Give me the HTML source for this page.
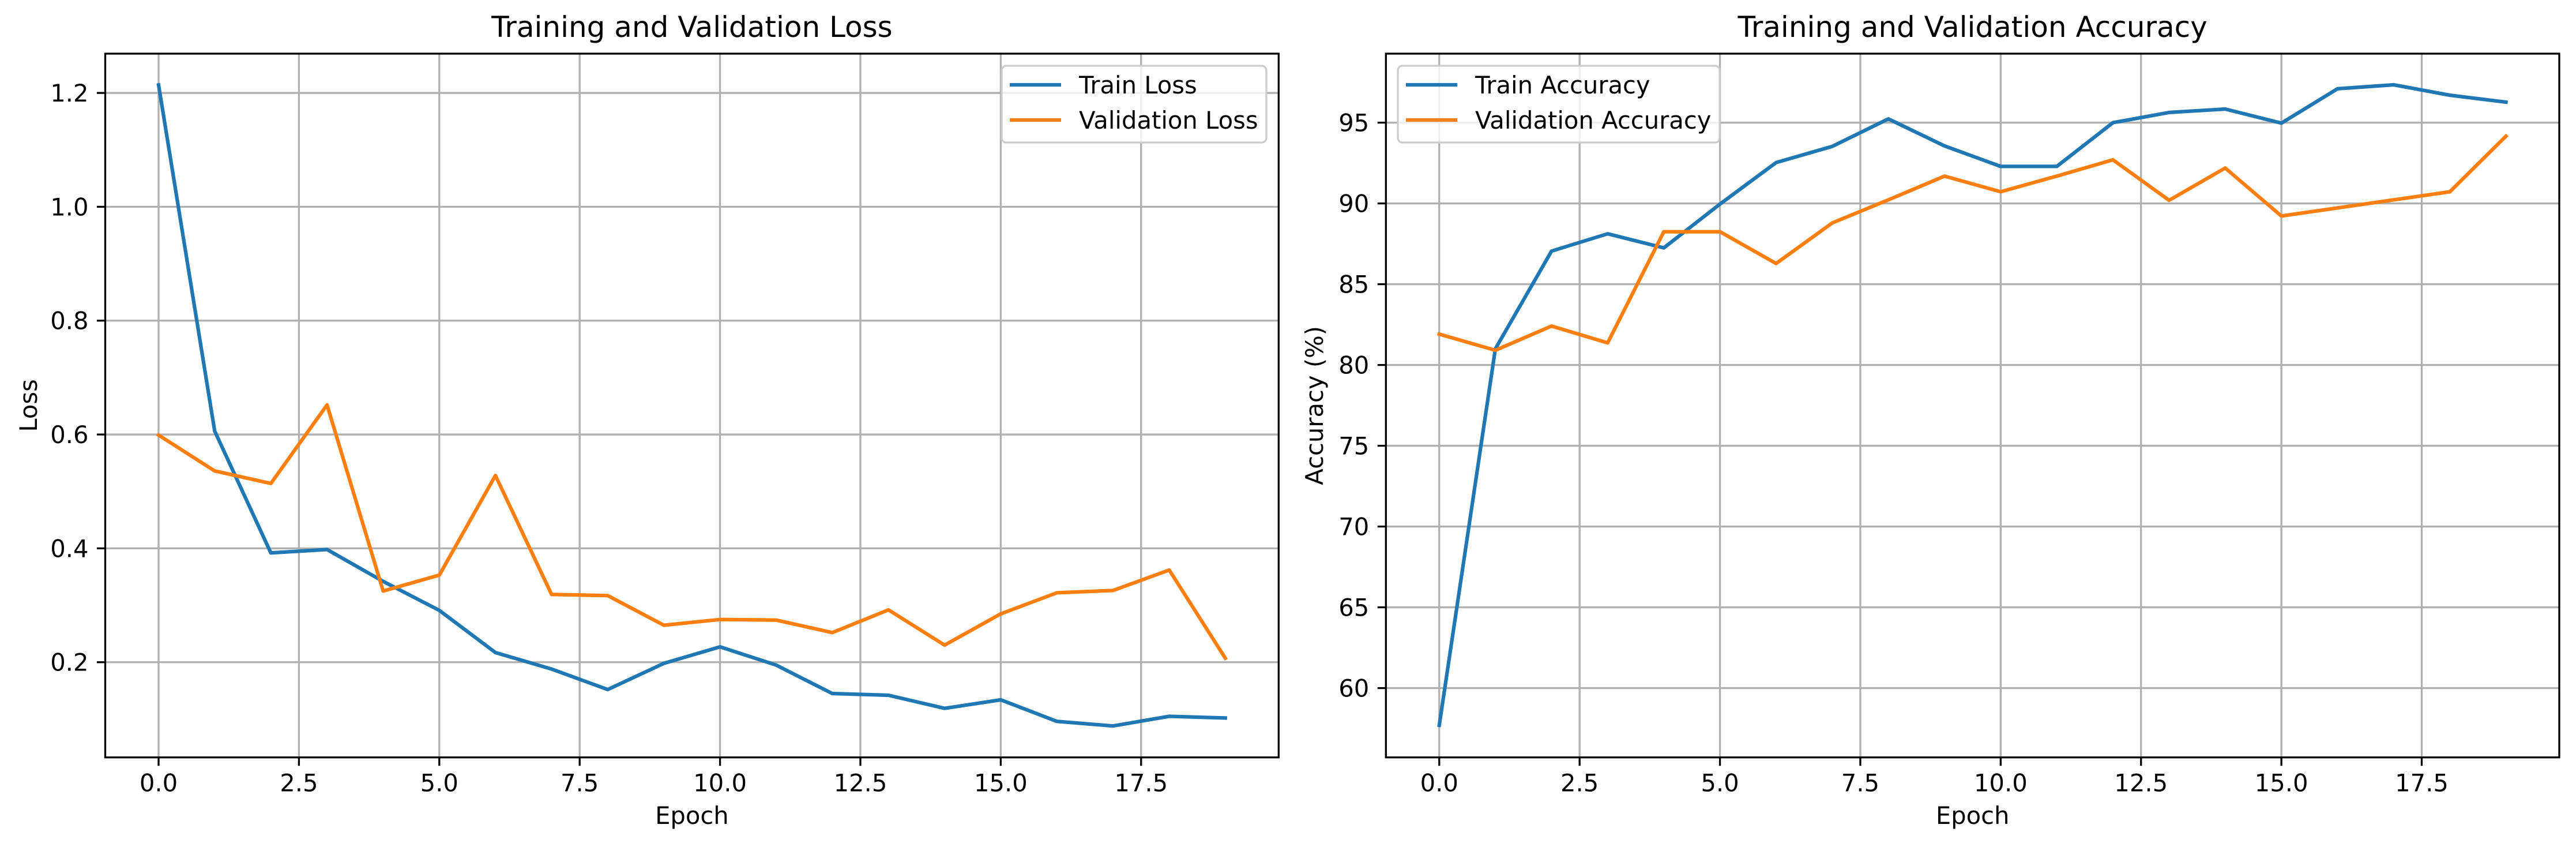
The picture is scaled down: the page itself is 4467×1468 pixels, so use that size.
<!DOCTYPE html>
<html><head><meta charset="utf-8"><style>
html,body{margin:0;padding:0;background:#fff;}
svg{display:block;font-family:"DejaVu Sans","Liberation Sans",sans-serif;}
</style></head><body>
<svg id="fig" width="4467" height="1468" viewBox="0 0 4467 1468" xmlns="http://www.w3.org/2000/svg"></svg>
<script>
const epochs = [0,1,2,3,4,5,6,7,8,9,10,11,12,13,14,15,16,17,18,19];
const trainLoss = [1.214,0.606,0.392,0.398,0.342,0.291,0.217,0.188,0.152,0.198,0.227,0.195,0.145,0.142,0.119,0.134,0.096,0.088,0.105,0.102];
const valLoss = [0.599,0.536,0.514,0.652,0.325,0.353,0.528,0.319,0.317,0.265,0.275,0.274,0.252,0.292,0.230,0.285,0.322,0.326,0.362,0.207];
const trainAcc = [57.7,81.0,87.05,88.12,87.25,89.96,92.53,93.53,95.23,93.56,92.29,92.29,95.0,95.63,95.84,94.97,97.1,97.34,96.7,96.27];
const valAcc = [81.91,80.91,82.41,81.37,88.25,88.25,86.28,88.79,90.22,91.69,90.72,91.69,92.7,90.19,92.19,89.22,89.72,90.22,90.72,94.16];
const xTicks = [0,2.5,5,7.5,10,12.5,15,17.5];
const xTickLabels = ["0.0","2.5","5.0","7.5","10.0","12.5","15.0","17.5"];
const lossTicks = [0.2,0.4,0.6,0.8,1.0,1.2];
const lossTickLabels = ["0.2","0.4","0.6","0.8","1.0","1.2"];
const accTicks = [60,65,70,75,80,85,90,95];
const accTickLabels = ["60","65","70","75","80","85","90","95"];

const NS = "http://www.w3.org/2000/svg";
const svg = document.getElementById('fig');
function mk(tag, attrs, parent){
  const e = document.createElementNS(NS, tag);
  for (const k in attrs) e.setAttribute(k, attrs[k]);
  (parent||svg).appendChild(e);
  return e;
}
const BLUE = "#1f77b4", ORANGE = "#ff7f0e";

function panel(opts){
  const g = mk('g', {});
  
  
  const L = opts.left, R = opts.right, T = 93, B = 1312.7;
  const xmin = -0.95, xmax = 19.95;
  const sx = v => L + (v - xmin) / (xmax - xmin) * (R - L);
  const sy = v => B - (v - opts.ymin) / (opts.ymax - opts.ymin) * (B - T);
  // grid
  xTicks.forEach((t, i) => {
    const l = mk('line', {x1: sx(t), x2: sx(t), y1: T, y2: B, stroke: '#b0b0b0', 'stroke-width': 3.3}, g);
    
    
  });
  opts.yTicks.forEach((t, i) => {
    const l = mk('line', {x1: L, x2: R, y1: sy(t), y2: sy(t), stroke: '#b0b0b0', 'stroke-width': 3.3}, g);
    
    
  });
  // series
  opts.series.forEach(s => {
    const pts = epochs.map((e, i) => sx(e).toFixed(1) + ',' + sy(s.values[i]).toFixed(1)).join(' ');
    const pl = mk('polyline', {points: pts, fill: 'none', stroke: s.color, 'stroke-width': 6.25, 'stroke-linejoin': 'round', 'stroke-linecap': 'square'}, g);
    
    
  });
  // frame
  const fr = mk('rect', {x: L, y: T, width: R - L, height: B - T, fill: 'none', stroke: '#000', 'stroke-width': 3.3}, g);
  
  
  // ticks
  xTicks.forEach((t, i) => {
    mk('line', {x1: sx(t), x2: sx(t), y1: B, y2: B + 14.6, stroke: '#000', 'stroke-width': 3.3}, g);
    const tx = mk('text', {x: sx(t), y: B + 59, 'font-size': 41.7, 'text-anchor': 'middle', fill: '#000'}, g);
    tx.textContent = xTickLabels[i];
    
    
  });
  opts.yTicks.forEach((t, i) => {
    mk('line', {x1: L - 14.6, x2: L, y1: sy(t), y2: sy(t), stroke: '#000', 'stroke-width': 3.3}, g);
    const tx = mk('text', {x: L - 29, y: sy(t) + 15, 'font-size': 41.7, 'text-anchor': 'end', fill: '#000'}, g);
    tx.textContent = opts.yTickLabels[i];
    
    
  });
  // title & labels
  const ti = mk('text', {x: (L + R) / 2, y: 64, 'font-size': 50, 'text-anchor': 'middle', fill: '#000'}, g);
  ti.textContent = opts.title;
  
  
  const xl = mk('text', {x: (L + R) / 2, y: 1428, 'font-size': 41.7, 'text-anchor': 'middle', fill: '#000'}, g);
  xl.textContent = 'Epoch';
  
  
  const yl = mk('text', {x: 0, y: 0, 'font-size': 41.7, 'text-anchor': 'middle', fill: '#000', transform: 'translate(' + opts.ylabelX + ',' + ((T + B) / 2) + ') rotate(-90)'}, g);
  yl.textContent = opts.ylabel;
  
  
  // legend
  const lg = mk('g', {}, g);
  
  
  mk('rect', {x: opts.legX, y: 114, width: opts.legW, height: 133, rx: 8, fill: 'rgba(255,255,255,0.8)', stroke: '#cccccc', 'stroke-width': 3.3}, lg);
  opts.series.forEach((s, i) => {
    const cy = 147 + i * 61;
    mk('line', {x1: opts.legX + 14, x2: opts.legX + 103, y1: cy, y2: cy, stroke: s.color, 'stroke-width': 6.25}, lg);
    const t = mk('text', {x: opts.legX + 134, y: cy + 15, 'font-size': 41.7, fill: '#000'}, lg);
    t.textContent = s.label;
    
    
  });
}

panel({name: 'loss-chart', left: 182.5, right: 2217.3, ymin: 0.0328, ymax: 1.269,
  yTicks: lossTicks, yTickLabels: lossTickLabels, title: 'Training and Validation Loss',
  ylabel: 'Loss', ylabelX: 64, legX: 1737, legW: 459,
  series: [{id: 'train-loss-line', label: 'Train Loss', values: trainLoss, color: BLUE},
           {id: 'validation-loss-line', label: 'Validation Loss', values: valLoss, color: ORANGE}]});
panel({name: 'accuracy-chart', left: 2403.3, right: 4438, ymin: 55.71, ymax: 99.27,
  yTicks: accTicks, yTickLabels: accTickLabels, title: 'Training and Validation Accuracy',
  ylabel: 'Accuracy (%)', ylabelX: 2294, legX: 2424, legW: 558,
  series: [{id: 'train-accuracy-line', label: 'Train Accuracy', values: trainAcc, color: BLUE},
           {id: 'validation-accuracy-line', label: 'Validation Accuracy', values: valAcc, color: ORANGE}]});
</script>
</body></html>
